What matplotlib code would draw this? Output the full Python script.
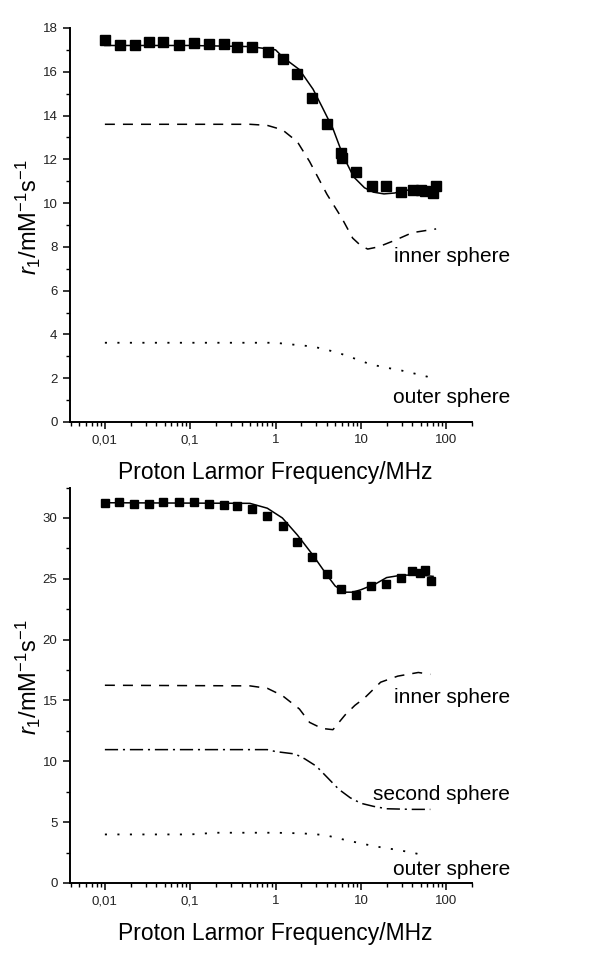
import matplotlib
matplotlib.use("Agg")
import matplotlib.pyplot as plt
from matplotlib.ticker import FixedLocator, FixedFormatter, LogLocator, MultipleLocator, NullFormatter

plt.rcParams['font.family'] = ['Liberation Sans', 'DejaVu Sans']
plt.rcParams['mathtext.fontset'] = 'custom'
plt.rcParams['mathtext.rm'] = 'Liberation Sans'
plt.rcParams['mathtext.it'] = 'Liberation Sans:italic'
plt.rcParams['lines.scale_dashes'] = False

# ---------------- data: top panel ----------------
freq_top = [0.01, 0.015, 0.0224, 0.033, 0.048, 0.074, 0.11, 0.165, 0.247, 0.357, 0.535,
            0.82, 1.22, 1.80, 2.70, 4.05, 5.9, 6.0, 8.8, 13.5, 19.8, 29.8, 40.7, 51, 57, 69, 76]
r1_top = [17.43, 17.23, 17.23, 17.34, 17.34, 17.2, 17.3, 17.26, 17.26, 17.15, 17.15,
          16.92, 16.6, 15.9, 14.8, 13.6, 12.3, 12.08, 11.4, 10.77, 10.8, 10.5, 10.6, 10.6, 10.57, 10.46, 10.8]

fit_top_f = [0.01, 0.1, 0.5, 1.0, 1.22, 1.9, 2.75, 3.5, 4.7, 6.2, 8.2, 11, 14, 18.6, 24.7, 36, 56, 76]
fit_top_v = [17.2, 17.2, 17.15, 17.0, 16.66, 16.1, 15.2, 14.4, 13.4, 12.15, 11.2, 10.7, 10.5, 10.42, 10.46, 10.6, 10.7, 10.77]

inner_top_f = [0.01, 0.5, 0.8, 1.2, 1.8, 2.5, 4, 6, 8, 10, 12, 16, 25, 40, 76]
inner_top_v = [13.6, 13.6, 13.55, 13.35, 12.8, 11.9, 10.4, 9.3, 8.4, 8.05, 7.9, 8.0, 8.3, 8.65, 8.82]

outer_top_f = [0.01, 1.0, 1.3, 2, 2.7, 4, 6, 9, 13, 20, 30, 45, 60, 76]
outer_top_v = [3.62, 3.62, 3.57, 3.5, 3.45, 3.3, 3.1, 2.86, 2.63, 2.48, 2.35, 2.19, 2.07, 1.92]

# ---------------- data: bottom panel ----------------
freq_bot = [0.01, 0.0145, 0.022, 0.033, 0.048, 0.074, 0.11, 0.165, 0.247, 0.357, 0.535, 0.79,
            1.22, 1.8, 2.7, 4.05, 5.9, 8.8, 13, 19.7, 29.8, 40, 49, 57, 67]
r1_bot = [31.24, 31.3, 31.15, 31.15, 31.3, 31.3, 31.3, 31.15, 31.1, 30.96, 30.77, 30.2,
          29.3, 28.0, 26.8, 25.4, 24.2, 23.7, 24.4, 24.6, 25.1, 25.6, 25.45, 25.7, 24.8]

fit_bot_f = [0.01, 0.5, 0.8, 1.2, 1.8, 2.7, 4, 5, 6.5, 8, 10, 15, 20, 30, 50, 70]
fit_bot_v = [31.25, 31.2, 30.8, 30.0, 28.6, 27.0, 25.3, 24.4, 23.9, 23.9, 24.1, 24.6, 25.1, 25.3, 25.3, 25.2]

inner_bot_f = [0.01, 0.5, 0.8, 1.2, 1.9, 2.5, 3.5, 4.7, 6.5, 8.5, 11, 17, 27, 47, 65]
inner_bot_v = [16.25, 16.2, 16.0, 15.4, 14.3, 13.2, 12.7, 12.6, 13.8, 14.6, 15.2, 16.5, 17.0, 17.3, 17.15]

second_bot_f = [0.01, 0.8, 1.0, 1.7, 2.2, 3, 4, 5.5, 7.5, 10, 14, 20, 40, 65]
second_bot_v = [10.96, 10.96, 10.8, 10.6, 10.2, 9.6, 8.7, 7.7, 7.0, 6.55, 6.3, 6.1, 6.05, 6.05]

outer_bot_f = [0.01, 0.1, 0.2, 1, 2, 3, 4, 6, 10, 15, 25, 40, 60]
outer_bot_v = [3.99, 3.99, 4.13, 4.13, 4.08, 4.0, 3.9, 3.6, 3.25, 3.0, 2.75, 2.5, 2.2]

xtick_vals = [0.01, 0.1, 1, 10, 100]
xtick_labels = ['0,01', '0,1', '1', '10', '100']
xlabel = 'Proton Larmor Frequency/MHz'
ylabel = r'$r_1$/mM$^{-1}$s$^{-1}$'

fig = plt.figure(figsize=(6.08, 9.58), dpi=100)
ax1 = fig.add_axes([0.1151, 0.5595, 0.6612, 0.4113])
ax2 = fig.add_axes([0.1151, 0.0783, 0.6612, 0.4128])

lw = 1.1
dash = (7.2, 5.8)
dot = (1.5, 7.5)
dashdot = (9.5, 3.5, 1.5, 3.5)


def style(ax, ymax, major, minor):
    ax.set_xscale('log')
    ax.set_xlim(0.0039, 200)
    ax.set_ylim(0, ymax)
    for s in ['top', 'right']:
        ax.spines[s].set_visible(False)
    for s in ['left', 'bottom']:
        ax.spines[s].set_linewidth(1.4)
    ax.xaxis.set_major_locator(FixedLocator(xtick_vals))
    ax.xaxis.set_major_formatter(FixedFormatter(xtick_labels))
    ax.xaxis.set_minor_locator(LogLocator(base=10, subs=range(2, 10), numticks=20))
    ax.xaxis.set_minor_formatter(NullFormatter())
    ax.yaxis.set_major_locator(MultipleLocator(major))
    ax.yaxis.set_minor_locator(MultipleLocator(minor))
    ax.tick_params(which='major', direction='out', length=5, width=1.1,
                   labelsize=9.5, labelcolor='#222222', pad=4)
    ax.tick_params(which='minor', direction='out', length=3, width=1.0)
    ax.set_xlabel(xlabel, fontsize=16.5)
    ax.xaxis.label.set_verticalalignment('center')
    ax.xaxis.set_label_coords(0.51, -0.127)
    ax.set_ylabel(ylabel, fontsize=17)
    ax.yaxis.label.set_verticalalignment('center')
    ax.yaxis.set_label_coords(-0.104, 0.52)


# top panel
ax1.plot(fit_top_f, fit_top_v, color='black', lw=lw)
ax1.plot(freq_top, r1_top, linestyle='none', marker='s', ms=7.2, color='black')
ax1.plot(inner_top_f, inner_top_v, color='black', lw=lw, dashes=dash)
ax1.plot(outer_top_f, outer_top_v, color='black', lw=1.3, dashes=dot)
style(ax1, 18, 2, 1)
ax1.text(1.0945, 0.419, 'inner sphere', transform=ax1.transAxes, ha='right', va='center',
         fontsize=15, clip_on=False)
ax1.text(1.0945, 0.061, 'outer sphere', transform=ax1.transAxes, ha='right', va='center',
         fontsize=15, clip_on=False)

# bottom panel
ax2.plot(fit_bot_f, fit_bot_v, color='black', lw=lw)
ax2.plot(freq_bot, r1_bot, linestyle='none', marker='s', ms=5.2, color='black')
ax2.plot(inner_bot_f, inner_bot_v, color='black', lw=lw, dashes=dash)
ax2.plot(second_bot_f, second_bot_v, color='black', lw=lw, dashes=dashdot)
ax2.plot(outer_bot_f, outer_bot_v, color='black', lw=1.3, dashes=dot)
style(ax2, 32.5, 5, 2.5)
ax2.text(1.0945, 0.470, 'inner sphere', transform=ax2.transAxes, ha='right', va='center',
         fontsize=15, clip_on=False)
ax2.text(1.0945, 0.2225, 'second sphere', transform=ax2.transAxes, ha='right', va='center',
         fontsize=15, clip_on=False)
ax2.text(1.0945, 0.033, 'outer sphere', transform=ax2.transAxes, ha='right', va='center',
         fontsize=15, clip_on=False)

fig.savefig('out.png', dpi=100)
